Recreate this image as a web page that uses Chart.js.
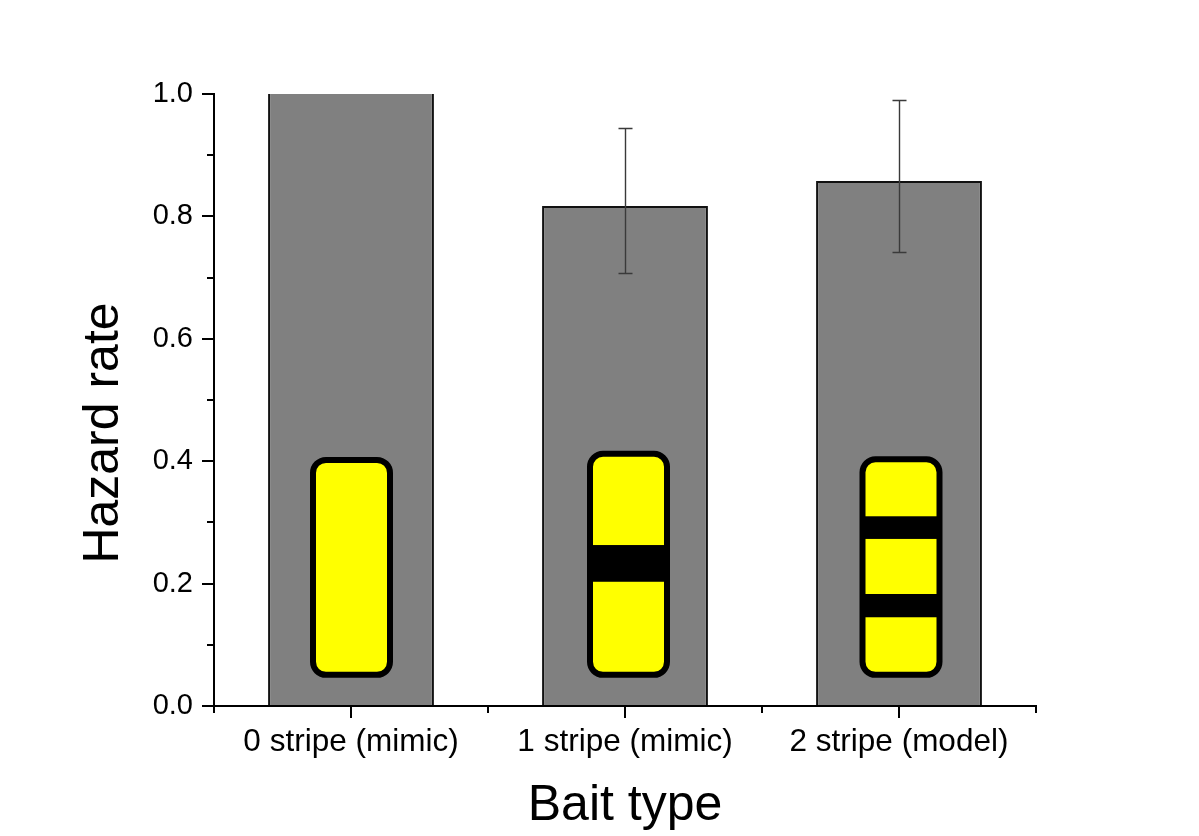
<!DOCTYPE html>
<html>
<head>
<meta charset="utf-8">
<style>html,body{margin:0;padding:0;background:#fff}canvas{display:block}</style>
<script src="https://cdn.jsdelivr.net/npm/chart.js@4"></script>
</head>
<body>
<canvas id="c" width="1199" height="836"></canvas>
<script>
const categories = ['0 stripe (mimic)', '1 stripe (mimic)', '2 stripe (model)'];
const hazardRate = [1.0, 0.817, 0.858];
const errorHigh = [null, 0.944, 0.990];
const errorLow = [null, 0.7075, 0.742];
const yTicks = [0, 0.2, 0.4, 0.6, 0.8, 1.0];

// Bait illustrations, placed on the value axis
const baitTop = [0.407, 0.417, 0.408];
const baitBottom = [0.046, 0.046, 0.046];
const baitStripes = [[], [[0.203, 0.263]], [[0.273, 0.310], [0.145, 0.183]]];
const baitOffsetPx = [0.5, 3.5, 2];

const FONT = '"Liberation Sans", Arial, sans-serif';

const customMarks = {
  id: 'customMarks',
  afterDatasetsDraw(chart) {
    const {ctx, scales: {x, y}} = chart;
    ctx.save();
    // Bait icons
    baitTop.forEach((top, i) => {
      const cx = x.getPixelForValue(i) + baitOffsetPx[i];
      const w = 77, lw = 6, r = 13;
      const yT = y.getPixelForValue(top) + lw / 2;
      const yB = y.getPixelForValue(baitBottom[i]) - lw / 2;
      ctx.beginPath();
      ctx.roundRect(cx - w / 2, yT, w, yB - yT, r);
      ctx.fillStyle = '#ffff00';
      ctx.fill();
      ctx.save();
      ctx.clip();
      ctx.fillStyle = '#000';
      baitStripes[i].forEach(([lo, hi]) => {
        const a = y.getPixelForValue(hi), b = y.getPixelForValue(lo);
        ctx.fillRect(cx - w / 2 - 1, a, w + 2, b - a);
      });
      ctx.restore();
      ctx.beginPath();
      ctx.roundRect(cx - w / 2, yT, w, yB - yT, r);
      ctx.lineWidth = lw;
      ctx.strokeStyle = '#000';
      ctx.stroke();
    });
    // Error bars
    ctx.strokeStyle = '#3a3a3a';
    ctx.lineWidth = 1.4;
    errorHigh.forEach((hi, i) => {
      if (hi === null) return;
      const cx = Math.round(x.getPixelForValue(i)) + 0.5;
      const a = Math.round(y.getPixelForValue(hi)) + 0.5;
      const b = Math.round(y.getPixelForValue(errorLow[i])) + 0.5;
      ctx.beginPath();
      ctx.moveTo(cx, a); ctx.lineTo(cx, b);
      ctx.moveTo(cx - 7, a); ctx.lineTo(cx + 7, a);
      ctx.moveTo(cx - 7, b); ctx.lineTo(cx + 7, b);
      ctx.stroke();
    });
    // Axis tick marks: long at labelled values, short between
    ctx.strokeStyle = '#000';
    ctx.lineWidth = 2;
    const xa = x.left, ya = y.bottom;
    ctx.beginPath();
    y.ticks.forEach(t => {
      const p = Math.round(y.getPixelForValue(t.value));
      const major = yTicks.some(v => Math.abs(v - t.value) < 1e-6);
      ctx.moveTo(xa, p); ctx.lineTo(xa - (major ? 12 : 7), p);
    });
    const step = x.getPixelForValue(1) - x.getPixelForValue(0);
    categories.forEach((c, i) => {
      const p = Math.round(x.getPixelForValue(i));
      ctx.moveTo(p, ya); ctx.lineTo(p, ya + 12);
    });
    for (let i = 0; i <= categories.length; i++) {
      const p = Math.round(x.getPixelForValue(0) + (i - 0.5) * step);
      ctx.moveTo(p, ya); ctx.lineTo(p, ya + 7);
    }
    ctx.stroke();
    ctx.beginPath();
    ctx.moveTo(xa, y.top - 1); ctx.lineTo(xa, ya + 1);
    ctx.moveTo(xa - 1, ya); ctx.lineTo(x.right + 1, ya);
    ctx.stroke();
    ctx.restore();
  }
};

new Chart(document.getElementById('c'), {
  type: 'bar',
  data: {
    labels: categories,
    datasets: [{
      data: hazardRate,
      backgroundColor: '#808080',
      borderColor: '#111111',
      borderWidth: ctx => ({top: ctx.raw >= 1 ? 0 : 2, left: 2, right: 2, bottom: 0}),
      barPercentage: 1,
      categoryPercentage: 0.605
    }]
  },
  options: {
    responsive: false,
    animation: false,
    devicePixelRatio: 1,
    layout: {padding: {left: 0, right: 163, top: 94, bottom: 0}},
    plugins: {legend: {display: false}, tooltip: {enabled: false}, title: {display: false}},
    scales: {
      x: {
        afterFit(s) { s.height = 130; },
        grid: {display: false, drawTicks: false},
        border: {display: false},
        ticks: {color: '#000', font: {family: FONT, size: 31.5}, padding: 17, maxRotation: 0, autoSkip: false},
        title: {display: true, text: 'Bait type', color: '#000', font: {family: FONT, size: 50}, padding: {top: 0, bottom: 0}}
      },
      y: {
        min: 0,
        max: 1,
        afterFit(s) {
          s.width = 214;
          // The reference's axis title sits below the axis midpoint.
          if (!s._titleShifted) {
            const drawTitle = s.drawTitle;
            s.drawTitle = function () {
              this.ctx.save();
              this.ctx.translate(0, 33);
              drawTitle.call(this);
              this.ctx.restore();
            };
            s._titleShifted = true;
          }
        },
        afterBuildTicks(s) {
          s.ticks = Array.from({length: 11}, (_, i) => ({value: i / 10}));
        },
        grid: {display: false, drawTicks: false},
        border: {display: false},
        ticks: {
          color: '#000',
          autoSkip: false,
          font: {family: FONT, size: 29},
          padding: 21,
          callback: v => yTicks.some(t => Math.abs(t - v) < 1e-6) ? v.toFixed(1) : ''
        },
        title: {display: true, text: 'Hazard rate', color: '#000', font: {family: FONT, size: 50}, padding: {top: 74, bottom: 0}}
      }
    }
  },
  plugins: [customMarks]
});
</script>
</body>
</html>
